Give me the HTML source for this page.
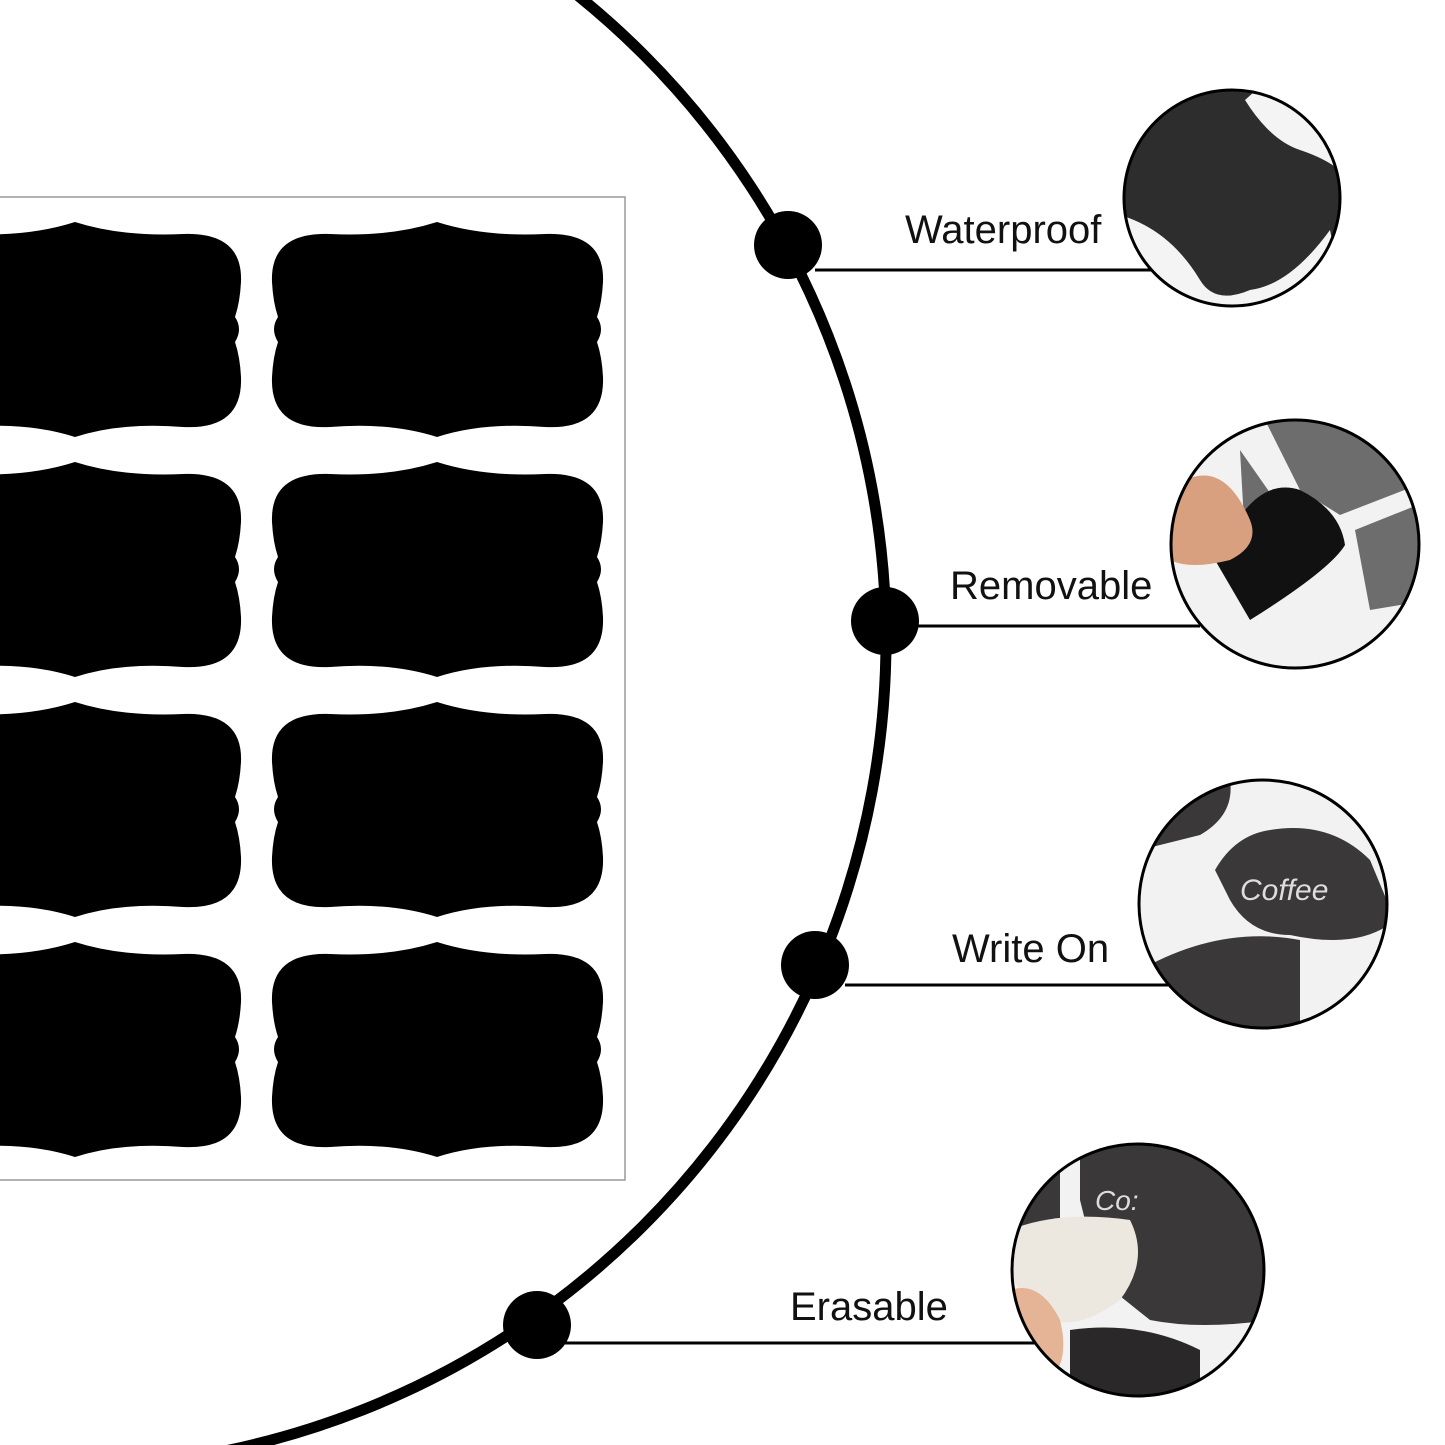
<!DOCTYPE html>
<html><head><meta charset="utf-8"><style>
html,body{margin:0;padding:0;background:#fff;}
svg{display:block}
text{font-family:"Liberation Sans",sans-serif;font-size:40px;fill:#111}
</style></head><body>
<svg width="1445" height="1445" viewBox="0 0 1445 1445" xmlns="http://www.w3.org/2000/svg">
<defs>
<path id="lab" d="M167,0 Q120,15 60,12 Q0,10 2,60 Q3,80 8,95 Q0,107 8,120 Q3,135 2,155 Q0,208 60,205 Q120,200 167,215 Q214,200 275,205 Q335,208 333,155 Q332,135 327,120 Q335,107 327,95 Q332,80 333,60 Q335,10 275,12 Q214,15 167,0 Z" fill="#000"/>
<clipPath id="c1"><circle cx="1232" cy="198" r="108"/></clipPath>
<clipPath id="c2"><circle cx="1295" cy="544" r="124"/></clipPath>
<clipPath id="c3"><circle cx="1263" cy="904" r="124"/></clipPath>
<clipPath id="c4"><circle cx="1138" cy="1270" r="126"/></clipPath>
</defs>
<rect x="-2" y="197" width="627" height="983" fill="#fff" stroke="#999" stroke-width="1.5"/>
<g>
<use href="#lab" x="-92" y="222"/><use href="#lab" x="270" y="222"/>
<use href="#lab" x="-92" y="462"/><use href="#lab" x="270" y="462"/>
<use href="#lab" x="-92" y="702"/><use href="#lab" x="270" y="702"/>
<use href="#lab" x="-92" y="942"/><use href="#lab" x="270" y="942"/>
</g>
<circle cx="58" cy="640" r="828" fill="none" stroke="#000" stroke-width="11"/>
<circle cx="788" cy="245" r="34"/>
<circle cx="885" cy="621" r="34"/>
<circle cx="815" cy="965" r="34"/>
<circle cx="537" cy="1325" r="34"/>
<g stroke="#000" stroke-width="3">
<line x1="815" y1="270" x2="1165" y2="270"/>
<line x1="900" y1="626" x2="1200" y2="626"/>
<line x1="845" y1="985" x2="1170" y2="985"/>
<line x1="565" y1="1343" x2="1045" y2="1343"/>
</g>
<text x="905" y="243">Waterproof</text>
<text x="950" y="599">Removable</text>
<text x="952" y="962">Write On</text>
<text x="790" y="1320">Erasable</text>
<g clip-path="url(#c1)">
<rect x="1100" y="80" width="260" height="240" fill="#2e2d2e"/>
<path d="M1120,215 Q1170,230 1200,280 Q1215,305 1250,290 Q1290,285 1330,230 L1350,330 L1100,330 Z" fill="#f4f4f4"/>
<path d="M1245,100 Q1270,140 1300,150 Q1330,160 1345,175 L1350,60 L1290,60 Z" fill="#f4f4f4"/>
</g>
<circle cx="1232" cy="198" r="108" fill="none" stroke="#000" stroke-width="3"/>
<g clip-path="url(#c2)">
<rect x="1160" y="410" width="270" height="270" fill="#f2f2f2"/>
<path d="M1265,420 L1430,420 L1430,480 L1340,515 L1300,490 Z" fill="#6e6d6d"/>
<path d="M1355,530 L1430,500 L1430,600 L1370,610 Z" fill="#6e6d6d"/>
<path d="M1240,450 L1275,500 L1245,540 Z" fill="#6e6d6d"/>
<path d="M1245,510 Q1270,480 1300,490 Q1340,510 1345,545 Q1330,570 1250,620 L1215,560 Z" fill="#111"/>
<path d="M1170,490 Q1220,450 1250,520 Q1260,545 1230,560 Q1190,570 1170,560 Z" fill="#d9a080"/>
</g>
<circle cx="1295" cy="544" r="124" fill="none" stroke="#000" stroke-width="3"/>
<g clip-path="url(#c3)">
<rect x="1130" y="770" width="270" height="270" fill="#f2f2f2"/>
<path d="M1140,790 L1230,780 Q1235,815 1200,835 L1140,850 Z" fill="#3a3838"/>
<path d="M1215,870 Q1235,835 1270,830 Q1330,820 1370,860 L1395,920 Q1360,950 1290,935 Q1250,935 1230,900 Z" fill="#3a3838"/>
<path d="M1140,970 Q1220,925 1300,940 L1300,1040 L1140,1040 Z" fill="#3a3838"/>
<text x="1240" y="900" style="font-size:30px;fill:#ddd;font-style:italic">Coffee</text>
</g>
<circle cx="1263" cy="904" r="124" fill="none" stroke="#000" stroke-width="3"/>
<g clip-path="url(#c4)">
<rect x="1000" y="1130" width="280" height="280" fill="#f2f2f2"/>
<path d="M1080,1140 Q1120,1130 1150,1145 Q1190,1150 1210,1160 Q1240,1180 1260,1200 L1270,1320 Q1200,1330 1150,1320 L1100,1280 L1080,1200 Z" fill="#3a3838"/>
<path d="M1010,1200 L1060,1170 L1060,1220 L1010,1240 Z" fill="#3a3838"/>
<path d="M1070,1330 Q1140,1320 1200,1350 L1200,1410 L1070,1410 Z" fill="#2a2828"/>
<path d="M1010,1230 Q1060,1210 1130,1220 Q1150,1260 1120,1300 Q1080,1330 1050,1320 Q1020,1300 1010,1270 Z" fill="#ece8df"/>
<path d="M1010,1290 Q1040,1280 1060,1320 Q1070,1360 1050,1380 L1010,1380 Z" fill="#e5b396"/>
<text x="1095" y="1210" style="font-size:28px;fill:#ddd;font-style:italic">Co:</text>
</g>
<circle cx="1138" cy="1270" r="126" fill="none" stroke="#000" stroke-width="3"/>
</svg>
</body></html>
